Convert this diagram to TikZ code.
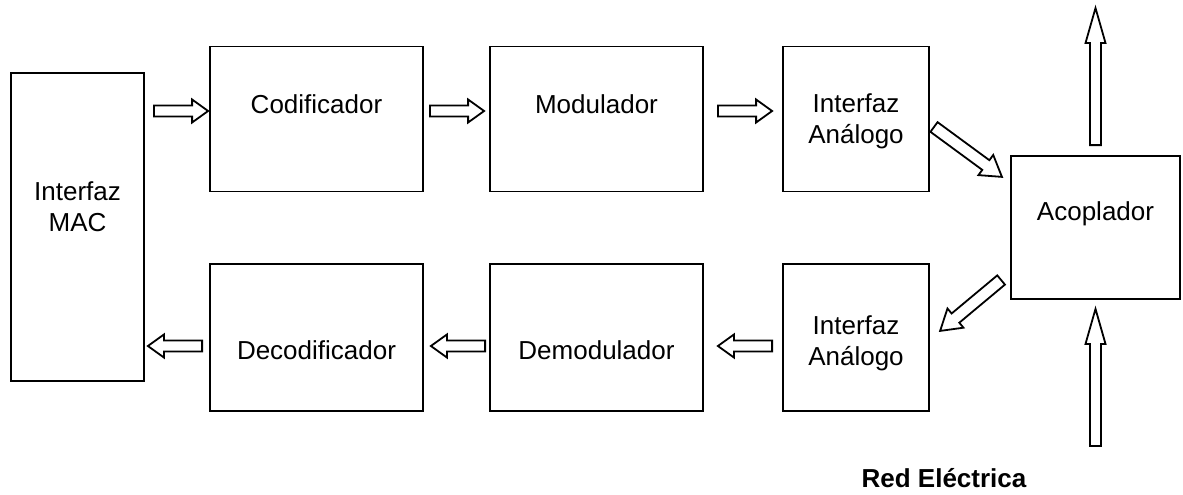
\documentclass[tikz,border=0pt]{standalone}
\usepackage{fontspec}
\setmainfont{Liberation Sans}
\usetikzlibrary{calc}

% Hollow block arrow from #1 to #2: shaft half-width #3, head half-width #4, head length #5
\newcommand\blockarrow[5]{%
  \draw[arrowline] let \p1=(#1), \p2=(#2),
      \n1={atan2(\y2-\y1,\x2-\x1)}, \n2={veclen(\x2-\x1,\y2-\y1)} in
    [shift={(\p1)}, rotate=\n1]
    (0pt,-#3pt) -- (\n2-#5pt,-#3pt) -- (\n2-#5pt,-#4pt) -- (\n2,0pt)
    -- (\n2-#5pt,#4pt) -- (\n2-#5pt,#3pt) -- (0pt,#3pt) -- cycle;}

\begin{document}
\begin{tikzpicture}[x=1pt,y=-1pt,
    block/.style={draw, line width=1.8pt, inner sep=0pt},
    arrowline/.style={draw, line width=1.8pt, line join=miter, fill=white},
    lbl/.style={font=\fontsize{26pt}{31pt}\selectfont, align=center, inner sep=0pt},
    lblbase/.style={lbl, anchor=base}]
  \useasboundingbox (0,0) rectangle (1183,495);

  % blocks
  \node[block, minimum width=133pt, minimum height=308pt] (mac) at (77.5,227) {};
  \node[block, minimum width=213pt, minimum height=145pt] (cod) at (316.5,119) {};
  \node[block, minimum width=213pt, minimum height=145pt] (mod) at (596.5,119) {};
  \node[block, minimum width=146pt, minimum height=145pt] (iat) at (856,119) {};
  \node[block, minimum width=213pt, minimum height=147pt] (dec) at (316.5,337.5) {};
  \node[block, minimum width=213pt, minimum height=147pt] (dem) at (596.5,337.5) {};
  \node[block, minimum width=146pt, minimum height=147pt] (iab) at (856,337.5) {};
  \node[block, minimum width=169pt, minimum height=143pt] (aco) at (1095.5,227.5) {};

  % labels
  \node[lbl] (macl) at (77.5,206.5) {Interfaz\\MAC};
  \node[lblbase] (codl) at (316.5,113) {Codificador};
  \node[lblbase] (modl) at (596.5,113) {Modulador};
  \node[lbl] (iatl) at (856,121) {Interfaz\\An\'alogo};
  \node[lblbase] (decl) at (316.5,359) {Decodificador};
  \node[lblbase] (deml) at (596.5,359) {Demodulador};
  \node[lbl] (iabl) at (856,343.5) {Interfaz\\An\'alogo};
  \node[lblbase] (acol) at (1095.5,220) {Acoplador};
  \node[lblbase, font=\fontsize{26pt}{31pt}\selectfont\bfseries] (red) at (944,487) {Red El\'ectrica};

  % arrow end points
  \coordinate (t1s) at ($(mac.east)+(9,-116)$);
  \coordinate (t1e) at ($(cod.west)+(-1,-8)$);
  \coordinate (t2s) at ($(cod.east)+(6,-8)$);
  \coordinate (t2e) at ($(mod.west)+(-5,-8)$);
  \coordinate (t3s) at ($(mod.east)+(14,-8)$);
  \coordinate (t3e) at ($(iat.west)+(-10,-8)$);
  \coordinate (d1s) at (934,127);
  \coordinate (d1e) at ($(aco.west)+(-8,-50.5)$);
  \coordinate (d2s) at ($(aco.west)+(-9,52.5)$);
  \coordinate (d2e) at (940,331);
  \coordinate (b3s) at ($(iab.west)+(-10,8.5)$);
  \coordinate (b3e) at ($(dem.east)+(14,8.5)$);
  \coordinate (b2s) at ($(dem.west)+(-4,8.5)$);
  \coordinate (b2e) at ($(dec.east)+(7,8.5)$);
  \coordinate (b1s) at ($(dec.west)+(-7,8.5)$);
  \coordinate (b1e) at ($(mac.east)+(3,119)$);
  \coordinate (v1s) at ($(aco.north)+(0,-10)$);
  \coordinate (v1e) at (1095.5,8);
  \coordinate (v2s) at (1095.5,446);
  \coordinate (v2e) at ($(aco.south)+(0,9)$);

  % transmit chain
  \blockarrow{t1s}{t1e}{5.5}{11.5}{16}
  \blockarrow{t2s}{t2e}{5.5}{11.5}{16}
  \blockarrow{t3s}{t3e}{5.5}{11.5}{16}
  \blockarrow{d1s}{d1e}{6}{12.5}{20}
  % receive chain
  \blockarrow{d2s}{d2e}{6}{12.5}{20}
  \blockarrow{b3s}{b3e}{5.5}{11.5}{16}
  \blockarrow{b2s}{b2e}{5.5}{11.5}{16}
  \blockarrow{b1s}{b1e}{5.5}{11.5}{16}
  % power line
  \blockarrow{v1s}{v1e}{5.5}{10}{35}
  \blockarrow{v2s}{v2e}{5.5}{10}{35}
\end{tikzpicture}
\end{document}
